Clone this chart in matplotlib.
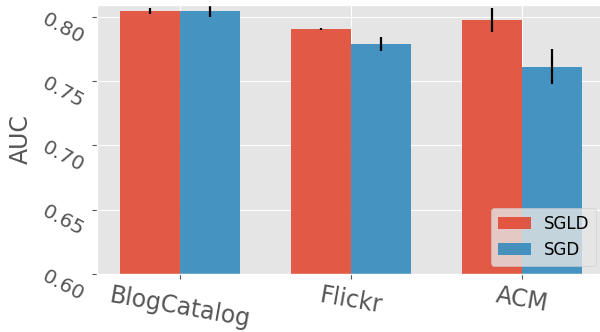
import matplotlib
matplotlib.use("Agg")
import matplotlib.pyplot as plt
import numpy as np

plt.style.use("ggplot")

datasets = ["BlogCatalog", "Flickr", "ACM"]
sgld_auc = [0.8045, 0.7905, 0.7975]
sgld_err = [0.0023, 0.0010, 0.0093]
sgd_auc = [0.8045, 0.7788, 0.7610]
sgd_err = [0.0047, 0.0055, 0.0136]

x = np.arange(len(datasets))
width = 0.35

fig = plt.figure(figsize=(6, 3.32), dpi=100)
ax = fig.add_axes([0.162, 0.175, 0.846, 0.81])

ax.bar(x - width / 2, sgld_auc, width, yerr=sgld_err, label="SGLD",
       color="#E24A33", alpha=0.9, error_kw=dict(ecolor="black", elinewidth=1.6))
ax.bar(x + width / 2, sgd_auc, width, yerr=sgd_err, label="SGD",
       color="#348ABD", alpha=0.9, error_kw=dict(ecolor="black", elinewidth=1.6))

ax.set_ylim(0.60, 0.8092)
ax.set_xlim(-0.485, 2.485)
ax.set_yticks([0.60, 0.65, 0.70, 0.75, 0.80])
ax.set_yticklabels(["0.60", "0.65", "0.70", "0.75", "0.80"])
ax.set_xticks(x)
ax.set_xticklabels(datasets)
ax.set_ylabel("AUC", fontsize=17)

plt.setp(ax.get_xticklabels(), rotation=-10, fontsize=17, ha="center")
plt.setp(ax.get_yticklabels(), rotation=-28, fontsize=14.5)

ax.legend(loc="lower right", fontsize=12)

fig.savefig("out.png", dpi=100)
